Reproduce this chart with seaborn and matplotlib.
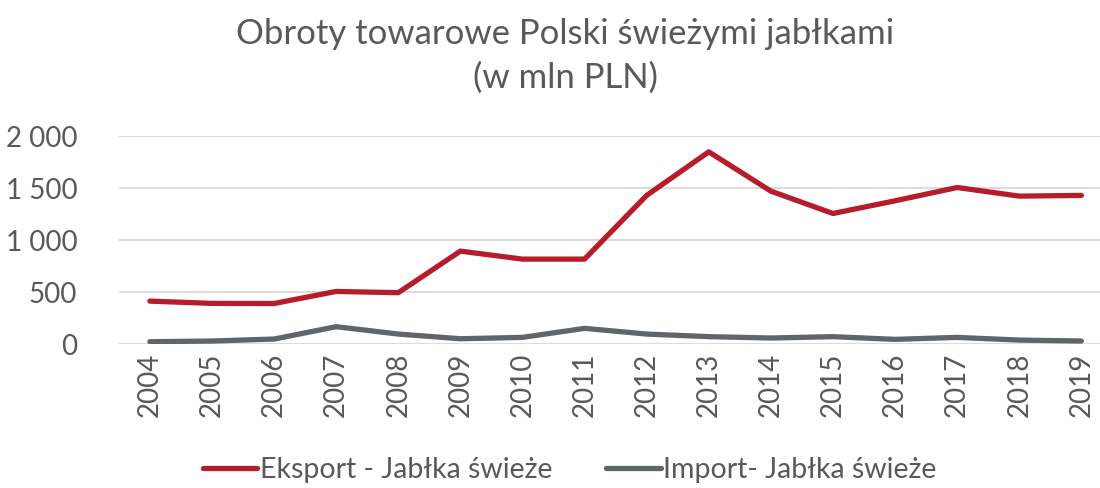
import pandas as pd
import numpy as np
import matplotlib
matplotlib.use('Agg')
import matplotlib.pyplot as plt
import seaborn as sns
from matplotlib.ticker import FuncFormatter

YEARS = [str(y) for y in range(2004, 2020)]
EKSPORT = [413, 391, 390, 506, 494, 894, 817, 817, 1430, 1849, 1471, 1256, 1378, 1506, 1423, 1430]
IMPORT = [22, 29, 48, 167, 96, 51, 64, 151, 96, 71, 58, 71, 45, 64, 38, 29]
SERIES = ['Eksport - Jabłka świeże', 'Import- Jabłka świeże']
PALETTE = {SERIES[0]: '#B71C2C', SERIES[1]: '#5F6568'}
TEXT_COLOR = '#595959'

sns.set_theme(style='white')
plt.rcParams['font.family'] = ['Lato', 'DejaVu Sans']

df = pd.DataFrame({
    'Rok': YEARS * 2,
    'Wartość': EKSPORT + IMPORT,
    'Seria': [SERIES[0]] * len(YEARS) + [SERIES[1]] * len(YEARS),
})

fig = plt.figure(figsize=(11, 4.88), dpi=100)
ax = fig.add_axes([0.108, 0.295, 0.892, 0.426])

sns.lineplot(data=df, x='Rok', y='Wartość', hue='Seria', palette=PALETTE,
             linewidth=3.8, sort=False, ax=ax)
for line in ax.get_lines():
    line.set_solid_capstyle('round')

ax.set_ylim(0, 2000)
ax.set_xlim(-0.5, 15.3)
ax.set_yticks([0, 500, 1000, 1500, 2000])
ax.yaxis.set_major_formatter(FuncFormatter(lambda v, p: f"{int(v):,}".replace(',', ' ')))
ax.grid(axis='y', color='#D9D9D9', linewidth=1.3)
ax.set_axisbelow(True)
for s in ['top', 'right', 'left', 'bottom']:
    ax.spines[s].set_visible(False)
ax.tick_params(axis='x', labelrotation=90, labelsize=20, colors=TEXT_COLOR, length=0, pad=6)
ax.tick_params(axis='y', labelsize=20, colors=TEXT_COLOR, length=0, pad=30)
ax.set_xlabel('')
ax.set_ylabel('')

fig.text(0.514, 0.93, 'Obroty towarowe Polski świeżymi jabłkami', ha='center', va='center',
         fontsize=25, color=TEXT_COLOR)
fig.text(0.514, 0.84, '(w mln PLN)', ha='center', va='center', fontsize=25, color=TEXT_COLOR)

handles, labels = ax.get_legend_handles_labels()
ax.legend(handles, labels, loc='center', bbox_to_anchor=(0.518, 0.037),
          bbox_transform=fig.transFigure, ncol=2, frameon=False, fontsize=20.5,
          handlelength=1.9, handletextpad=0.1, columnspacing=1.9, labelcolor=TEXT_COLOR)

plt.savefig('out.png', dpi=100)
